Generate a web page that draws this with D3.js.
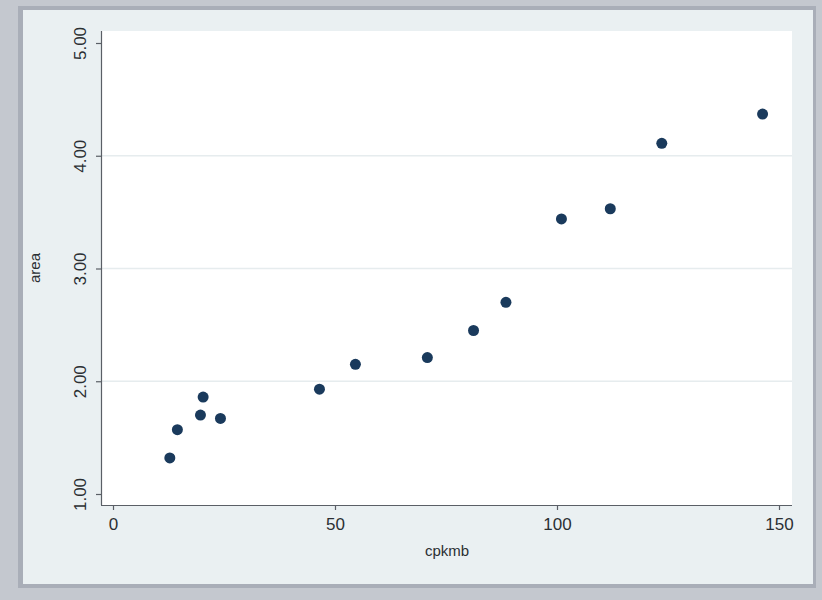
<!DOCTYPE html>
<html>
<head>
<meta charset="utf-8">
<script src="https://d3js.org/d3.v7.min.js"></script>
<style>
  body { margin: 0; background: #c4c8cf; }
  svg { display: block; }
</style>
</head>
<body>
<div id="chart"></div>
<script>
// data
var cpkmb = [12.8, 14.5, 19.7, 20.3, 24.2, 46.5, 54.6, 70.8, 81.2, 88.5, 101.0, 112.0, 123.6, 146.3]
var area = [1.32, 1.57, 1.70, 1.86, 1.67, 1.93, 2.15, 2.21, 2.45, 2.70, 3.44, 3.53, 4.11, 4.37]
var xTicks = [0, 50, 100, 150]
var yTicks = [1, 2, 3, 4, 5]
var yGrid = [2, 3, 4]

var width = 822
var height = 600

var svg = d3.select("#chart")
  .append("svg")
    .attr("width", width)
    .attr("height", height)

// outer frame + graph region
svg.append("rect")
  .attr("x", 0).attr("y", 0)
  .attr("width", width).attr("height", height)
  .attr("fill", "#c4c8cf")
svg.append("rect")
  .attr("x", 18).attr("y", 6)
  .attr("width", 798).attr("height", 582)
  .attr("fill", "#a9aeb8")
svg.append("rect")
  .attr("x", 23).attr("y", 10)
  .attr("width", 790).attr("height", 574)
  .attr("fill", "#eaf0f2")

// plot region
var plot = { left: 101, right: 792, top: 31, bottom: 505 }
svg.append("rect")
  .attr("x", plot.left).attr("y", plot.top)
  .attr("width", plot.right - plot.left)
  .attr("height", plot.bottom - plot.top)
  .attr("fill", "#ffffff")

var x = d3.scaleLinear().domain([0, 150]).range([113, 779])
var y = d3.scaleLinear().domain([1, 5]).range([494, 43])

// grid lines
svg.selectAll(".grid")
  .data(yGrid)
  .enter()
  .append("line")
    .attr("x1", plot.left).attr("x2", plot.right)
    .attr("y1", function(d) { return y(d) })
    .attr("y2", function(d) { return y(d) })
    .attr("stroke", "#e6ecee")
    .attr("stroke-width", 1.5)

// axes
var xAxis = svg.append("g")
  .attr("transform", "translate(0," + plot.bottom + ")")
  .call(d3.axisBottom(x).tickValues(xTicks).tickSize(5).tickPadding(8).tickFormat(d3.format("d")))
xAxis.select(".domain").attr("d", "M" + plot.left + ",0.5H" + plot.right)

var yAxis = svg.append("g")
  .attr("transform", "translate(" + plot.left + ",0)")
  .call(d3.axisLeft(y).tickValues(yTicks).tickSize(5).tickPadding(7).tickFormat(d3.format(".2f")))
yAxis.select(".domain").attr("d", "M0.5," + plot.top + "V" + plot.bottom)

svg.selectAll(".domain, .tick line")
  .attr("stroke", "#5a5f66")
  .attr("stroke-width", 1.2)
svg.selectAll(".tick text")
  .attr("fill", "#2b2f33")
  .style("font-family", "Liberation Sans, Arial, sans-serif")
  .style("font-size", "17px")

// rotate y labels like Stata
yAxis.selectAll(".tick text")
  .attr("transform", "rotate(-90)")
  .attr("x", 0)
  .attr("y", -15)
  .attr("dy", 0)
  .attr("text-anchor", "middle")

// axis titles
svg.append("text")
  .attr("x", 447).attr("y", 556)
  .attr("text-anchor", "middle")
  .attr("fill", "#2b2f33")
  .style("font-family", "Liberation Sans, Arial, sans-serif")
  .style("font-size", "15px")
  .text("cpkmb")

svg.append("text")
  .attr("transform", "translate(40,268) rotate(-90)")
  .attr("text-anchor", "middle")
  .attr("fill", "#2b2f33")
  .style("font-family", "Liberation Sans, Arial, sans-serif")
  .style("font-size", "15px")
  .text("area")

// markers
svg.selectAll(".pt")
  .data(cpkmb)
  .enter()
  .append("circle")
    .attr("cx", function(d) { return x(d) })
    .attr("cy", function(d, i) { return y(area[i]) })
    .attr("r", 5.5)
    .attr("fill", "#1a3a5c")
</script>
</body>
</html>
